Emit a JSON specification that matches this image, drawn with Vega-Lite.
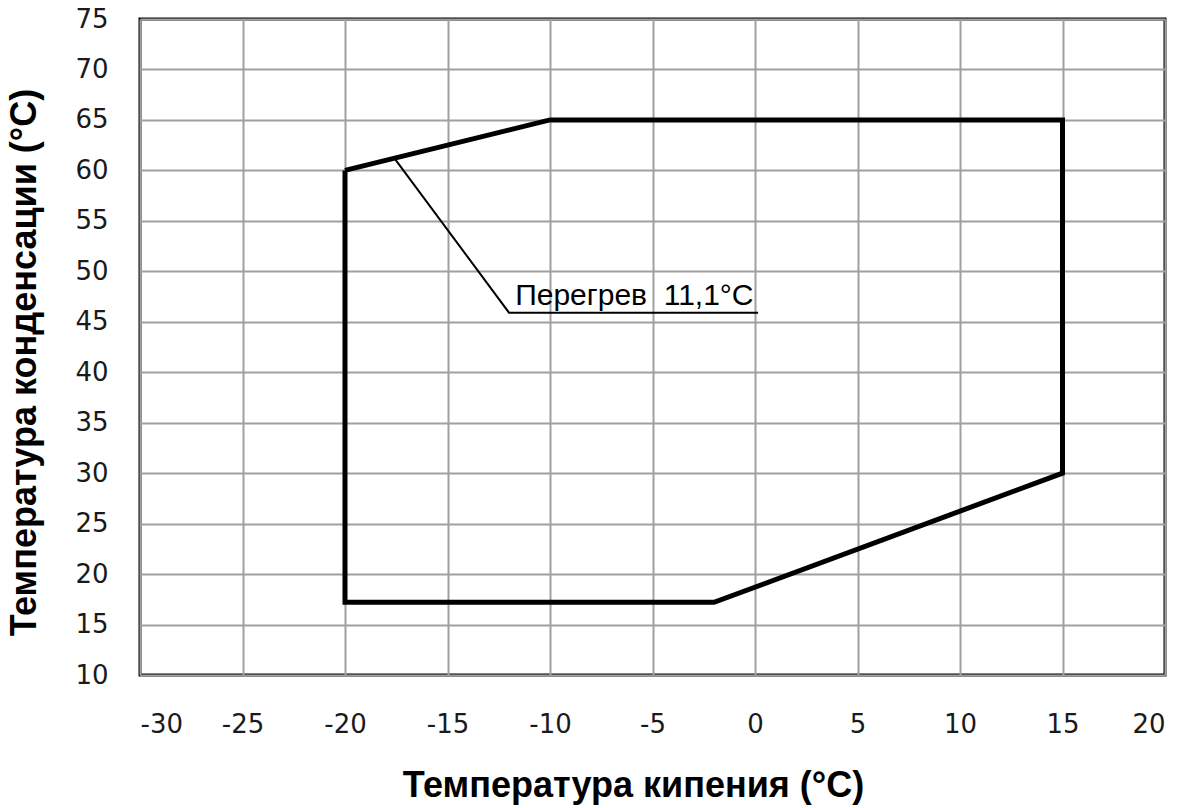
{
  "$schema": "https://vega.github.io/schema/vega-lite/v6.json",
  "autosize": "none",
  "width": 1025,
  "height": 656,
  "padding": {"left": 140, "top": 19, "right": 20, "bottom": 133},
  "background": "white",
  "config": {
    "view": {"stroke": "black", "strokeWidth": 3},
    "axis": {
      "grid": true,
      "gridColor": "#a0a0a0",
      "gridWidth": 2,
      "domain": false,
      "ticks": false,
      "labelFont": "DejaVu Sans",
      "labelFontSize": 26,
      "labelColor": "#1a1a1a",
      "labelExpr": "toString(datum.value)",
      "titleFont": "Liberation Sans",
      "titleFontWeight": "bold",
      "titleColor": "black"
    }
  },
  "datasets": {
    "envelope": [
      {"te": -20, "tc": 60, "i": 1},
      {"te": -10, "tc": 65, "i": 2},
      {"te": 15, "tc": 65, "i": 3},
      {"te": 15, "tc": 30, "i": 4},
      {"te": -2, "tc": 17.2, "i": 5},
      {"te": -20, "tc": 17.2, "i": 6},
      {"te": -20, "tc": 60, "i": 7}
    ],
    "leader": [
      {"te": -17.55, "tc": 61.1, "i": 1},
      {"te": -12.0, "tc": 45.9, "i": 2},
      {"te": 0.15, "tc": 45.9, "i": 3}
    ],
    "label": [
      {"te": -11.7, "tc": 46.7, "txt": "Перегрев\u00a0\u00a011,1°C"}
    ]
  },
  "layer": [
    {
      "data": {"name": "envelope"},
      "mark": {"type": "line", "color": "black", "strokeWidth": 5, "strokeJoin": "miter"},
      "encoding": {
        "x": {
          "field": "te", "type": "quantitative",
          "scale": {"domain": [-30, 20], "nice": false, "zero": false},
          "axis": {"values": [-30, -25, -20, -15, -10, -5, 0, 5, 10, 15, 20], "title": "Температура кипения (°C)", "titleFontSize": 36, "titleX": 493, "labelPadding": 36, "titlePadding": 31}
        },
        "y": {
          "field": "tc", "type": "quantitative",
          "scale": {"domain": [10, 75], "nice": false, "zero": false},
          "axis": {"values": [10, 15, 20, 25, 30, 35, 40, 45, 50, 55, 60, 65, 70, 75], "title": "Температура конденсации (°C)", "titleFontSize": 36, "titleY": 343, "labelPadding": 32, "titlePadding": 31}
        },
        "order": {"field": "i", "type": "quantitative"}
      }
    },
    {
      "data": {"name": "leader"},
      "mark": {"type": "line", "color": "black", "strokeWidth": 2},
      "encoding": {
        "x": {"field": "te", "type": "quantitative"},
        "y": {"field": "tc", "type": "quantitative"},
        "order": {"field": "i", "type": "quantitative"}
      }
    },
    {
      "data": {"name": "label"},
      "mark": {"type": "text", "align": "left", "baseline": "alphabetic", "font": "Liberation Sans", "fontSize": 30, "color": "black"},
      "encoding": {
        "x": {"field": "te", "type": "quantitative"},
        "y": {"field": "tc", "type": "quantitative"},
        "text": {"field": "txt"}
      }
    }
  ]
}
